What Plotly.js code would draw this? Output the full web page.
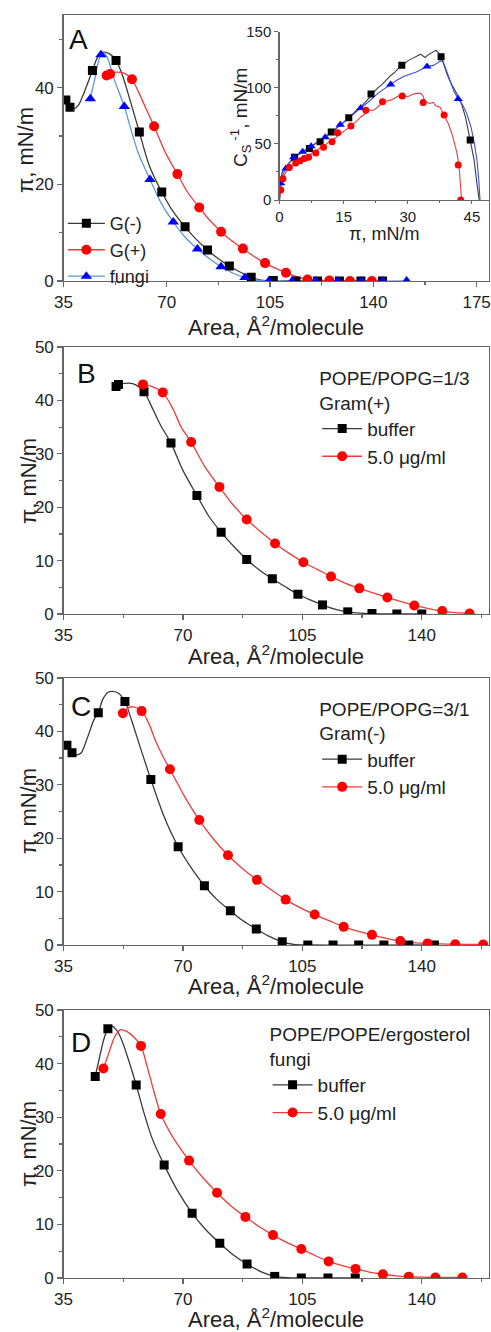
<!DOCTYPE html>
<html>
<head>
<meta charset="utf-8">
<script src="https://cdn.plot.ly/plotly-3.0.1.min.js"></script>
<style>
html,body{margin:0;padding:0;background:#fff;}
#chart{width:491px;height:1332px;}
</style>
</head>
<body>
<div id="chart"></div>
<script>
// ---------------- Panel A (main) ----------------
const A_gm_mx = [35.8,37.2,44.8,52.8,60.7,68.3,76.2,83.8,91.2,98.6,106.1,113.8,121.1,128.5,135.8,143.1];
const A_gm_my = [37.4,35.9,43.5,45.6,30.8,18.4,11.2,6.4,3.1,0.8,0.1,0,0,0,0,0];
const A_gm_lx = [35,35.8,37.2,38.5,40,42,44.8,46.5,48.5,50.5,52.8,55,57.5,60.7,64,68.3,72,76.2,80,83.8,87.5,91.2,95,98.6,102,106,110,143.1];
const A_gm_ly = [37.8,37.4,35.9,35.6,36.3,39,43.5,46.2,47.3,47.0,45.6,42.5,37.5,30.8,24.0,18.4,14.5,11.2,8.6,6.4,4.6,3.1,1.8,0.8,0.2,0,0,0];

const A_gp_mx = [49.6,50.8,58.2,65.7,73.6,81.0,88.4,95.8,103.3,110.4,117.7,125.1,132.1,139.5];
const A_gp_my = [42.5,42.8,41.7,32.0,22.1,15.2,10.2,6.7,3.7,1.7,0.3,0.1,0,0];
const A_gp_lx = [49.6,51,53,55.5,58.2,60.5,63,65.7,69.5,73.6,77,81,84.5,88.4,92,95.8,99.5,103.3,107,110.4,114,117.7,121,125.1,132.1,139.5];
const A_gp_ly = [42.5,43.0,43.2,43.0,41.7,39.0,35.6,32.0,26.6,22.1,18.4,15.2,12.6,10.2,8.3,6.7,5.1,3.7,2.6,1.7,0.9,0.3,0.15,0.05,0,0];

const A_fu_mx = [44.1,47.7,55.6,64.3,72.2,80.4,88.4,96.5,104.6,112.5,120.4,128,135.9,143.2,151.3];
const A_fu_my = [37.7,46.8,36.1,21.0,12.2,6.6,2.95,0.7,0,0,0,0,0,0,0];
const A_fu_lx = [44.1,45.5,46.7,47.7,48.7,50,52,55.6,58,60.5,64.3,68,72.2,76,80.4,84.5,88.4,92.5,96.5,100,104.6,151.3];
const A_fu_ly = [37.7,41.5,45,46.8,47.2,46,42,36.1,31.0,26.2,21.0,16.2,12.2,9.2,6.6,4.6,2.95,1.6,0.7,0.2,0,0];

// ---------------- Panel A (inset: Cs^-1 vs pi) ----------------
const I_gm_lx = [0,0.15,0.3,0.6,1,1.5,2,3,4,5,6,7,8,9,10,11,12,13,14,15,16,17,18,19,20,21,21.5,22,23,24,25,26,27,28,29,30,31,32,33,34,35,36,36.6,37.2,37.8,38.5,39.2,40,41.2,42.3,43.5,44.6,45.5,46.2,46.7];
const I_gm_ly = [0,10,18,24,28,30,32,36,39,42,44,47,49,52,54,57,60,63,66,69,73,76,80,83,87,91,95,96,100,103,107,111,114,118,121,124,126,128,130,127,130,132,133.5,131,127.7,120,112,105,97,89,74,53.5,36,14,0];
const I_gm_mx = [3.5,7.0,9.5,12.1,16.2,21.4,28.6,37.8,44.6];
const I_gm_my = [38,46,52,60.7,73.2,94.4,120,127.7,53.5];

const I_gp_lx = [0,0.3,0.8,2,3,4,5,6,7,8,9,10,11,12,13,14,15,16,17,18,19,20,21,22,23,24,25,26,27,28,29,30,31,32,33,33.5,34,35,36,36.5,37.5,38.5,39.5,40.5,41.5,42,42.3,42.6];
const I_gp_ly = [0,12,20,28,31,34,36,38,40,43,45,48,50,53,55,58,61,64,67,70,74,77,80,80,83,86,88,89,91,93,93,92,94,95,95,93,88,86,87,84,83,76,68,57,42,30,15,0];
const I_gp_mx = [0.3,0.8,2.3,3.8,4.8,5.8,6.8,8.5,10.3,12.3,13.6,16.7,20.2,24.1,28.7,33.6,38.5,41.8,42.4];
const I_gp_my = [9,19,29,33,35,37,38,42,47,52,60,66,80,87.6,92.7,87,75.8,31.2,0];

const I_fu_lx = [0,0.15,0.3,0.7,1.5,2.5,3.3,4.3,5.4,6.4,7.4,9,10.7,12.5,14.2,16.5,19,21,23,24.5,26,27.5,29,30.5,32,33.5,34.5,36,37,37.7,38.3,39,40,40.8,41.8,42.8,43.8,44.8,45.6,46.2,46.6,46.9];
const I_fu_ly = [0,8,15,22,28,34,38,40.5,43,45.5,48,52,56,61.5,67,74,82,88,95,99,103,107,110,112,114,117,119,120,122,124,123,116,106,97,90,85,77,65,50,35,18,0];
const I_fu_mx = [0.3,1.5,3.3,5.4,7.4,10.7,14.2,19.0,26.0,34.5,41.8];
const I_fu_my = [15,28,38,43,48,56,67,82,103,119,90];

// ---------------- Panel B: POPE/POPG=1/3, Gram(+) ----------------
const B_buf_mx = [50.4,51.1,58.6,66.5,74.1,81.2,88.7,96.2,103.7,110.9,118.3,125.4,132.7,140.0];
const B_buf_my = [42.6,43.0,41.6,32.0,22.2,15.3,10.2,6.6,3.7,1.7,0.4,0.1,0,0];
const B_buf_lx = [50.4,51.1,53,55.5,58.6,61,63.5,66.5,70,74.1,77.5,81.2,85,88.7,92.5,96.2,100,103.7,107.5,110.9,114.5,118.3,122,125.4,132.7,140];
const B_buf_ly = [42.6,43.0,43.2,43.1,41.6,38.6,35.3,32.0,26.9,22.2,18.4,15.3,12.6,10.2,8.2,6.6,5.1,3.7,2.6,1.7,0.9,0.4,0.15,0.05,0,0];
const B_pep_mx = [58.3,64.1,72.4,80.7,88.7,97.0,105.3,113.4,121.7,129.9,137.8,146.0,154.0];
const B_pep_my = [43.0,41.5,32.2,23.8,17.7,13.2,9.7,7.0,4.8,3.1,1.6,0.55,0.1];
const B_pep_lx = [58.3,61,64.1,67,69.5,72.4,76.5,80.7,84.5,88.7,93,97,101,105.3,109.5,113.4,117.5,121.7,126,129.9,134,137.8,142,146,150,154];
const B_pep_ly = [43.0,42.6,41.5,38.5,35.0,32.2,27.5,23.8,20.6,17.7,15.3,13.2,11.4,9.7,8.3,7.0,5.8,4.8,3.9,3.1,2.3,1.6,1.0,0.55,0.25,0.1];

// ---------------- Panel C: POPE/POPG=3/1, Gram(-) ----------------
const C_buf_mx = [36.0,37.5,45.2,53.0,60.6,68.6,76.3,83.9,91.5,99.1,106.6,114.0,121.5,128.9,136.2,143.7];
const C_buf_my = [37.4,36.0,43.5,45.6,31.0,18.4,11.1,6.4,3.0,0.6,0,0,0,0,0,0];
const C_buf_lx = [35,36,37.5,38.8,40.2,42,44,45.2,46.5,48,49.2,51,53,55,57.5,60.6,64.5,68.6,72.5,76.3,80,83.9,87.5,91.5,95,99.1,102.5,106.6,143.7];
const C_buf_ly = [37.9,37.4,36.0,35.6,36.0,38.8,42.3,43.5,46.0,47.3,47.5,47.2,45.6,42.0,37.0,31.0,24.0,18.4,14.4,11.1,8.5,6.4,4.6,3.0,1.7,0.6,0.1,0,0];
const C_pep_mx = [52.4,57.9,66.2,74.8,83.2,91.7,100.1,108.6,117.1,125.4,133.7,141.7,149.8,158.0];
const C_pep_my = [43.4,43.8,32.9,23.4,16.8,12.2,8.5,5.7,3.4,1.9,0.75,0.3,0.15,0.1];
const C_pep_lx = [52.4,54,55.5,57.9,60,62,64,66.2,70.5,74.8,79,83.2,87.5,91.7,96,100.1,104.3,108.6,113,117.1,121.2,125.4,129.5,133.7,137.7,141.7,149.8,158];
const C_pep_ly = [43.4,44.4,44.6,43.8,41.5,38.2,35.5,32.9,27.8,23.4,19.8,16.8,14.3,12.2,10.3,8.5,7.0,5.7,4.5,3.4,2.6,1.9,1.25,0.75,0.45,0.3,0.15,0.1];

// ---------------- Panel D: POPE/POPE/ergosterol, fungi ----------------
const D_buf_mx = [44.3,48.0,56.3,64.5,72.7,80.8,88.8,96.9,104.7,112.5,120.5];
const D_buf_my = [37.6,46.5,36.0,21.1,12.1,6.5,2.6,0.3,0,0,0];
const D_buf_lx = [44.3,45.5,46.8,48.0,49.2,50.5,52,54,56.3,58.5,61,64.5,68.5,72.7,76.7,80.8,84.8,88.8,92.8,96.9,100.5,104.7,120.5];
const D_buf_ly = [37.6,41.0,44.5,46.5,47.0,46.3,44.5,40.8,36.0,31.0,26.0,21.1,16.2,12.1,9.0,6.5,4.3,2.6,1.2,0.3,0.05,0,0];
const D_pep_mx = [46.7,57.7,63.5,71.8,80.0,88.3,96.4,104.7,112.7,120.6,128.6,136.2,144.0,151.9];
const D_pep_my = [39.1,43.3,30.6,21.9,15.9,11.4,8.0,5.4,3.1,1.7,0.7,0.25,0.1,0.1];
const D_pep_lx = [46.7,48.3,50,51.6,53.5,55.5,57.7,59.5,61.5,63.5,67.5,71.8,76,80,84,88.3,92.3,96.4,100.5,104.7,108.7,112.7,116.7,120.6,124.6,128.6,132.5,136.2,144,151.9];
const D_pep_ly = [39.1,42.0,45.0,46.3,46.0,45.0,43.3,39.5,34.8,30.6,25.8,21.9,18.6,15.9,13.5,11.4,9.6,8.0,6.6,5.4,4.2,3.1,2.3,1.7,1.1,0.7,0.4,0.25,0.1,0.1];

// ---------------- labels ----------------
const seriesA = ['G(-)','G(+)','fungi'];
const seriesBCD = ['buffer','5.0 \u03bcg/ml'];
const legendTitles = ['POPE/POPG=1/3<br>Gram(+)','POPE/POPG=3/1<br>Gram(-)','POPE/POPE/ergosterol<br>fungi'];
const panelLetters = ['A','B','C','D'];
const areaTitle = 'Area, \u00c5<sup>2</sup>/molecule';
const piTitle = '\u03c0, mN/m';
const csTitle = 'C<sub>S</sub><sup> -1</sup>, mN/m';

// ---------------- styling ----------------
const FONT = 'Liberation Sans, Arial, Helvetica, sans-serif';
const BLK_L = '#3a3a3a', BLK_M = '#000000';
const RED_L = '#ee3b3b', RED_M = '#ff0000';
const BLU_L = '#5b95dc', BLU_M = '#0000ff', BLU_IL = '#3a4be0';
const TXT = '#222222';

function line(x, y, color, xa, ya, w, shape) {
  return {x: x, y: y, mode: 'lines', type: 'scatter', xaxis: xa, yaxis: ya,
    line: {color: color, width: w || 1.3, shape: shape || 'spline', smoothing: 0.8},
    showlegend: false, hoverinfo: 'skip'};
}
function marks(x, y, color, symbol, size, xa, ya) {
  return {x: x, y: y, mode: 'markers', type: 'scatter', xaxis: xa, yaxis: ya,
    marker: {color: color, symbol: symbol, size: size, line: {width: 0}},
    showlegend: false, hoverinfo: 'skip'};
}
function leg(name, lc, mc, symbol, size, legend) {
  return {x: [null], y: [null], mode: 'lines+markers', type: 'scatter', name: name,
    line: {color: lc, width: 1.3}, marker: {color: mc, symbol: symbol, size: size},
    legend: legend, showlegend: true, hoverinfo: 'skip'};
}

const traces = [];
// A main
traces.push(line(A_gm_lx, A_gm_ly, BLK_L, 'x', 'y'));
traces.push(line(A_fu_lx, A_fu_ly, BLU_L, 'x', 'y'));
traces.push(line(A_gp_lx, A_gp_ly, RED_L, 'x', 'y'));
traces.push(marks(A_gm_mx, A_gm_my, BLK_M, 'square', 9, 'x', 'y'));
traces.push(marks(A_gp_mx, A_gp_my, RED_M, 'circle', 10, 'x', 'y'));
traces.push(marks(A_fu_mx, A_fu_my, BLU_M, 'triangle-up', 10, 'x', 'y'));
traces.push(leg(seriesA[0], BLK_L, BLK_M, 'square', 9, 'legend'));
traces.push(leg(seriesA[1], RED_L, RED_M, 'circle', 10, 'legend'));
traces.push(leg(seriesA[2], BLU_L, BLU_M, 'triangle-up', 10, 'legend'));
// inset
traces.push(line(I_gm_lx, I_gm_ly, BLK_L, 'x2', 'y2', 1.1, 'linear'));
traces.push(line(I_fu_lx, I_fu_ly, BLU_IL, 'x2', 'y2', 1.1, 'linear'));
traces.push(line(I_gp_lx, I_gp_ly, RED_L, 'x2', 'y2', 1.1, 'linear'));
traces.push(marks(I_gm_mx, I_gm_my, BLK_M, 'square', 7, 'x2', 'y2'));
traces.push(marks(I_fu_mx, I_fu_my, BLU_M, 'triangle-up', 8, 'x2', 'y2'));
traces.push(marks(I_gp_mx, I_gp_my, RED_M, 'circle', 7, 'x2', 'y2'));
// B
traces.push(line(B_buf_lx, B_buf_ly, BLK_L, 'x3', 'y3'));
traces.push(line(B_pep_lx, B_pep_ly, RED_L, 'x3', 'y3'));
traces.push(marks(B_buf_mx, B_buf_my, BLK_M, 'square', 9, 'x3', 'y3'));
traces.push(marks(B_pep_mx, B_pep_my, RED_M, 'circle', 10, 'x3', 'y3'));
// C
traces.push(line(C_buf_lx, C_buf_ly, BLK_L, 'x4', 'y4'));
traces.push(line(C_pep_lx, C_pep_ly, RED_L, 'x4', 'y4'));
traces.push(marks(C_buf_mx, C_buf_my, BLK_M, 'square', 9, 'x4', 'y4'));
traces.push(marks(C_pep_mx, C_pep_my, RED_M, 'circle', 10, 'x4', 'y4'));
// D
traces.push(line(D_buf_lx, D_buf_ly, BLK_L, 'x5', 'y5'));
traces.push(line(D_pep_lx, D_pep_ly, RED_L, 'x5', 'y5'));
traces.push(marks(D_buf_mx, D_buf_my, BLK_M, 'square', 9, 'x5', 'y5'));
traces.push(marks(D_pep_mx, D_pep_my, RED_M, 'circle', 10, 'x5', 'y5'));
['legend2','legend3','legend4'].forEach(function(lg){
  traces.push(leg(seriesBCD[0], BLK_L, BLK_M, 'square', 9, lg));
  traces.push(leg(seriesBCD[1], RED_L, RED_M, 'circle', 10, lg));
});

const AX = '#666666';
function mainX(dom, range, anchor) {
  return {domain: dom, range: range, anchor: anchor, showline: true, mirror: true,
    linecolor: AX, linewidth: 1.3, ticks: 'outside', ticklen: 5, tickwidth: 1.2, tickcolor: AX,
    tick0: 35, dtick: 35, minor: {ticks: 'outside', ticklen: 3, tickcolor: AX, dtick: 17.5, tick0: 35},
    showgrid: false, zeroline: false, tickfont: {size: 17, color: TXT, family: FONT}};
}
function mainY(dom, range, anchor, dtick) {
  return {domain: dom, range: range, anchor: anchor, showline: true, mirror: true,
    linecolor: AX, linewidth: 1.3, ticks: 'outside', ticklen: 5, tickwidth: 1.2, tickcolor: AX,
    tick0: 0, dtick: dtick, minor: {ticks: 'outside', ticklen: 3, tickcolor: AX, dtick: dtick / 2},
    showgrid: false, zeroline: false, tickfont: {size: 17, color: TXT, family: FONT}};
}

// axis-title annotations (pixel positions converted to paper fractions)
const W = 491, H = 1332;
function px(x) { return x / W; }
function py(y) { return 1 - y / H; }
function ttl(text, x, y, size, angle) {
  return {text: text, xref: 'paper', yref: 'paper', x: px(x), y: py(y), xanchor: 'center', yanchor: 'middle',
    textangle: angle || 0, showarrow: false, font: {size: size, color: TXT, family: FONT}};
}
function letter(text, x, y) {
  return {text: text, xref: 'paper', yref: 'paper', x: px(x), y: py(y), xanchor: 'left', yanchor: 'middle',
    showarrow: false, font: {size: 28, color: '#111', family: FONT}};
}

const XD = [px(63.5), px(489)];
const legBase = {bgcolor: 'rgba(0,0,0,0)', borderwidth: 0, xanchor: 'left', yanchor: 'top',
  font: {size: 19, color: TXT, family: FONT}, tracegroupgap: 0, itemwidth: 40};

const layout = {
  width: W, height: H,
  margin: {l: 0, r: 0, t: 0, b: 0},
  paper_bgcolor: '#fff', plot_bgcolor: 'rgba(0,0,0,0)',
  font: {family: FONT, color: TXT},
  xaxis: mainX(XD, [35, 179.2], 'y'),
  yaxis: mainY([py(281), py(15)], [0, 55], 'x', 20),
  xaxis2: {domain: [px(279.5), px(489)], range: [0, 49], anchor: 'y2', showline: true, mirror: false,
    linecolor: AX, linewidth: 1.2, ticks: 'outside', ticklen: 3, tickcolor: AX,
    tick0: 0, dtick: 15, minor: {ticks: 'outside', ticklen: 2, tickcolor: AX, dtick: 7.5},
    showgrid: false, zeroline: false, tickfont: {size: 15, color: TXT, family: FONT}},
  yaxis2: {domain: [py(200), py(31.7)], range: [0, 150], anchor: 'x2', showline: true, mirror: false,
    linecolor: AX, linewidth: 1.2, ticks: 'outside', ticklen: 4, tickcolor: AX,
    tick0: 0, dtick: 50, minor: {ticks: 'outside', ticklen: 2.5, tickcolor: AX, dtick: 25},
    showgrid: false, zeroline: false, tickfont: {size: 15, color: TXT, family: FONT}},
  xaxis3: mainX(XD, [35, 159.7], 'y3'),
  yaxis3: mainY([py(614), py(347)], [0, 50], 'x3', 10),
  xaxis4: mainX(XD, [35, 159.7], 'y4'),
  yaxis4: mainY([py(945), py(678)], [0, 50], 'x4', 10),
  xaxis5: mainX(XD, [35, 159.7], 'y5'),
  yaxis5: mainY([py(1278), py(1010)], [0, 50], 'x5', 10),
  legend: Object.assign({}, legBase, {x: 0.128, y: 0.846, itemwidth: 37, font: {size: 18, color: TXT, family: FONT}}),
  legend2: Object.assign({}, legBase, {x: 0.646, y: 0.7295,
    title: {text: legendTitles[0], side: 'top', font: {size: 19, color: TXT, family: FONT}}}),
  legend3: Object.assign({}, legBase, {x: 0.646, y: 0.4813,
    title: {text: legendTitles[1], side: 'top', font: {size: 19, color: TXT, family: FONT}}}),
  legend4: Object.assign({}, legBase, {x: 0.545, y: 0.2368,
    title: {text: legendTitles[2], side: 'top', font: {size: 19, color: TXT, family: FONT}}}),
  annotations: [
    letter(panelLetters[0], 67, 40),
    letter(panelLetters[1], 75, 373),
    letter(panelLetters[2], 69, 706),
    letter(panelLetters[3], 69, 1042),
    // x titles
    ttl(areaTitle, 276, 326, 22),
    ttl(areaTitle, 276, 655, 22),
    ttl(areaTitle, 276, 985, 22),
    ttl(areaTitle, 276, 1318, 22),
    // y titles
    ttl(piTitle, 26, 150, 22, -90),
    ttl(piTitle, 28, 481, 22, -90),
    ttl(piTitle, 28, 811, 22, -90),
    ttl(piTitle, 28, 1144, 22, -90),
    // inset titles
    ttl(piTitle, 384, 234, 18),
    ttl(csTitle, 240, 118, 19, -90)
  ]
};

Plotly.newPlot('chart', traces, layout, {staticPlot: true, displayModeBar: false});
</script>
</body>
</html>
